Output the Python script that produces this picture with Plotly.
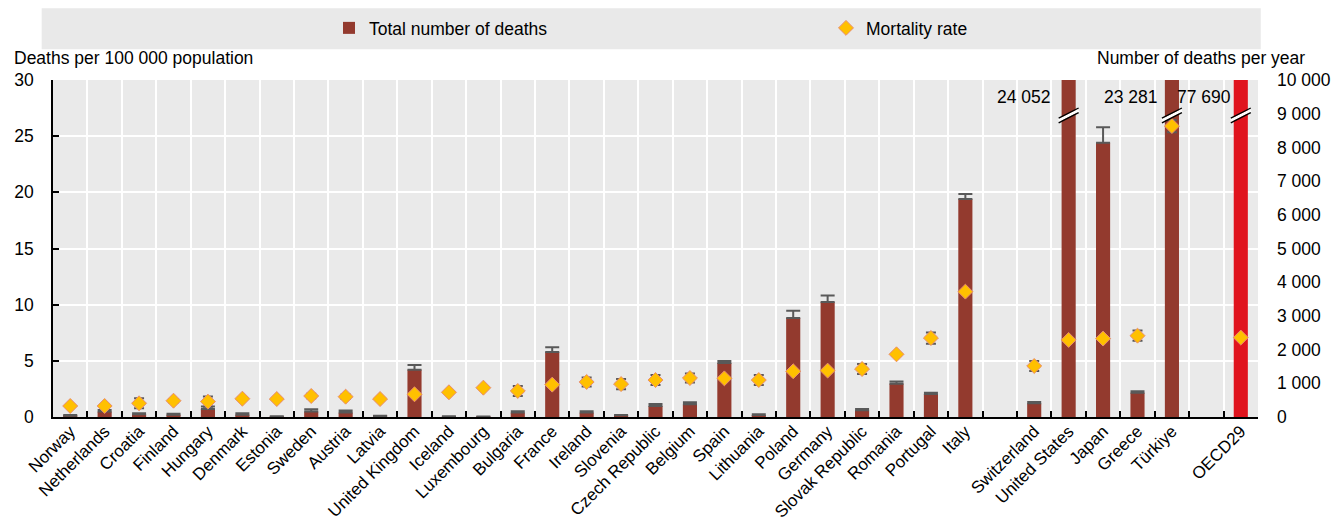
import plotly.graph_objects as go

# Countries in display order; blank entries are spacer slots between groups
countries = ["Norway", "Netherlands", "Croatia", "Finland", "Hungary", "Denmark",
             "Estonia", "Sweden", "Austria", "Latvia", "United Kingdom", "Iceland",
             "Luxembourg", "Bulgaria", "France", "Ireland", "Slovenia",
             "Czech Republic", "Belgium", "Spain", "Lithuania", "Poland", "Germany",
             "Slovak Republic", "Romania", "Portugal", "Italy", " ",
             "Switzerland", "United States", "Japan", "Greece", "Türkiye", "  ",
             "OECD29"]

# Total number of deaths per year (right axis)
deaths = [40, 160, 80, 70, 240, 70, 10, 160, 130, 30, 1405, 20, 10, 130, 1930,
          130, 50, 327, 376, 1603, 60, 2940, 3415, 198, 990, 683, 6469, None,
          406, 24052, 8141, 722, 23281, None, 77690]
deaths_err = [20, 50, 30, 30, 70, 40, 10, 70, 60, 10, 140, 5, 5, 40, 140,
              40, 10, 60, 60, 60, 20, 210, 190, 40, 60, 40, 150, None,
              40, 0, 460, 40, 0, None, 0]

# Deaths per 100 000 population (left axis)
rate = [0.98, 0.98, 1.22, 1.45, 1.37, 1.63, 1.60, 1.87, 1.81, 1.60, 2.02, 2.20,
        2.61, 2.32, 2.88, 3.12, 2.93, 3.29, 3.47, 3.44, 3.29, 4.07, 4.13, 4.27,
        5.58, 7.03, 11.16, None, 4.54, 6.86, 6.98, 7.24, 25.90, None, 7.07]
rate_err = [0.10, 0.10, 0.45, 0.15, 0.45, 0.10, 0.10, 0.20, 0.20, 0.10, 0.10,
            0.10, 0.10, 0.45, 0.10, 0.40, 0.45, 0.45, 0.40, 0.10, 0.45, 0.10,
            0.10, 0.45, 0.10, 0.50, 0.10, None, 0.45, 0.10, 0.10, 0.45, 0.55,
            None, 0.05]

DEATHS_MAX = 10000
RATE_MAX = 30
BROWN = "#933A2E"
RED = "#E0141E"
FONT = "Liberation Sans, Arial, sans-serif"
FS = 17.5

bar_colors = [RED if c == "OECD29" else BROWN for c in countries]

fig = go.Figure()

fig.add_trace(go.Bar(
    x=countries, y=deaths, name="Total number of deaths", yaxis="y",
    marker=dict(color=bar_colors, line=dict(width=0)), width=0.41,
    error_y=dict(type="data", array=deaths_err,
                 arrayminus=[0 if e is not None else None for e in deaths_err],
                 color="#595959", thickness=2, width=7),
))

fig.add_trace(go.Scatter(
    x=countries, y=rate, name="Mortality rate", yaxis="y2", mode="markers",
    marker=dict(symbol="diamond", size=11.5, color="#FFC000",
                line=dict(color="#E98C6E", width=1)),
    error_y=dict(type="data", array=rate_err, color="#595959",
                 thickness=2, width=5),
))

# Values of bars that run past the top of the scale, with break marks
shapes = []
annotations = []
label_shift = {"United States": -16, "Türkiye": -12, "OECD29": -8}
for i, (c, v) in enumerate(zip(countries, deaths)):
    if v is not None and v > DEATHS_MAX:
        annotations.append(dict(
            x=c, y=9500, xref="x", yref="y", text=f"{v:,}".replace(",", " "),
            showarrow=False, xanchor="right", yanchor="middle",
            xshift=label_shift.get(c, -12),
            font=dict(family=FONT, size=FS, color="#000"),
        ))
        yc = 8950
        shapes.append(dict(type="line", xref="x", yref="y",
                           x0=i - 0.29, x1=i + 0.29, y0=yc - 150, y1=yc + 150,
                           line=dict(color="white", width=3)))
        for off in (-70, 70):
            shapes.append(dict(type="line", xref="x", yref="y",
                               x0=i - 0.29, x1=i + 0.29,
                               y0=yc - 150 + off, y1=yc + 150 + off,
                               line=dict(color="#000", width=1.3)))

# Grey band behind the legend
shapes.append(dict(type="rect", xref="paper", yref="paper",
                   x0=-0.0094, x1=1.0023, y0=1.0911, y1=1.2128,
                   fillcolor="#E9E9E9", line=dict(width=0), layer="below"))

annotations.append(dict(
    x=(12 - 53) / 1205, y=(417 - 58) / 337, xref="paper", yref="paper",
    text="Deaths per 100 000 population", showarrow=False,
    xanchor="left", yanchor="middle", font=dict(family=FONT, size=FS, color="#000")))
annotations.append(dict(
    x=(1307 - 53) / 1205, y=(417 - 58) / 337, xref="paper", yref="paper",
    text="Number of deaths per year", showarrow=False,
    xanchor="right", yanchor="middle", font=dict(family=FONT, size=FS, color="#000")))

fig.update_layout(
    width=1333, height=523,
    margin=dict(l=53, r=75, t=80, b=106, autoexpand=False),
    paper_bgcolor="white", plot_bgcolor="#EAEAEA",
    font=dict(family=FONT, size=FS, color="#000"),
    separators=". ",
    bargap=0.5,
    showlegend=True,
    legend=dict(orientation="h", xref="container", yref="container",
                x=329 / 1333, y=1 - 28 / 523, xanchor="left", yanchor="middle",
                bgcolor="rgba(0,0,0,0)", entrywidth=452, entrywidthmode="pixels",
                font=dict(family=FONT, size=FS, color="#000"),
                traceorder="normal"),
    xaxis=dict(
        type="category", categoryorder="array", categoryarray=countries,
        tickson="boundaries", showgrid=True, gridcolor="white", gridwidth=1.5,
        ticks="inside", ticklen=6, tickcolor="#000", tickwidth=1.5,
        showline=True, linecolor="#000", linewidth=1.5,
        tickangle=-45, tickfont=dict(family=FONT, size=17, color="#000"),
        ticklabelstandoff=-4,
        range=[-0.5, len(countries) - 0.5], automargin=False,
    ),
    yaxis=dict(
        side="right", range=[0, DEATHS_MAX], dtick=1000, tickformat=",d",
        showgrid=False, zeroline=False, showline=False, ticks="",
        ticklabelstandoff=18, automargin=False,
        tickfont=dict(family=FONT, size=FS, color="#000"),
    ),
    yaxis2=dict(
        overlaying="y", side="left", range=[0, RATE_MAX], dtick=5,
        showgrid=True, gridcolor="white", gridwidth=1.5, zeroline=False,
        showline=True, linecolor="#000", linewidth=1.5,
        ticks="inside", ticklen=6, tickcolor="#000", tickwidth=1.5,
        ticklabelstandoff=14, automargin=False,
        tickfont=dict(family=FONT, size=FS, color="#000"),
    ),
    shapes=shapes,
    annotations=annotations,
)

fig.write_html("out.html")
